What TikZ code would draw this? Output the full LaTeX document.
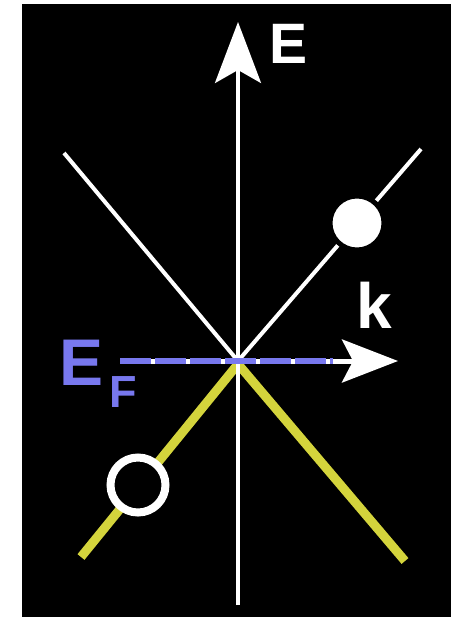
\documentclass[tikz,border=0pt]{standalone}
\usepackage{fontspec}
\setmainfont{Liberation Sans}
\usetikzlibrary{arrows.meta}
\definecolor{efblue}{RGB}{120,120,238}
\definecolor{bandyellow}{RGB}{212,212,60}
\tikzset{
  axis/.style={white, line width=3.5pt},
  cone/.style={white, line width=4pt},
  band/.style={bandyellow, line width=9pt},
  lbl/.style={inner sep=0pt, anchor=base west, font=\bfseries},
}
\begin{document}
\begin{tikzpicture}[x=1pt,y=-1pt]
\useasboundingbox (0,0) rectangle (451,617);
\fill[white] (0,0) rectangle (451,617);
\fill[black] (22,4) rectangle (451,617);
% coordinates
\coordinate (O) at (238,361);
\coordinate (Ob) at (238,364);
\coordinate (UL) at (64,153);
\coordinate (UR) at (421,149);
\coordinate (LL) at (81,557);
\coordinate (LR) at (405,561);
\coordinate (Ebot) at (238,605);
\coordinate (Etop) at (238,22);
\coordinate (Kl) at (120,361);
\coordinate (Kr) at (398,361);
% cone (conduction)
\draw[cone] (UL) -- (O) -- (UR);
% valence band
\draw[band, line join=miter] (LL) -- (Ob) -- (LR);
% energy axis
\draw[axis, -{Stealth[length=61pt,width=46pt,inset=13pt]}] (Ebot) -- (Etop);
% k axis
\draw[white, line width=5pt, -{Stealth[length=56pt,width=43pt,inset=11pt]}] (Kl) -- (Kr);
\draw[efblue, line width=6pt, dash pattern=on 31pt off 4pt] (Kl) -- (333,361);
% electron and hole
\node[circle, draw=black, line width=5pt, fill=white, minimum size=54pt, inner sep=0pt] (el) at (357,223) {};
\node[circle, draw=white, line width=8pt, fill=black, minimum size=55pt, inner sep=0pt] (hole) at (138,485) {};
% labels
\node[lbl, white, font=\bfseries\fontsize{57}{57}\selectfont] (E) at (269,64) {E};
\node[lbl, white, font=\bfseries\fontsize{64}{64}\selectfont] (k) at (356,328) {k};
\node[lbl, efblue, font=\bfseries\fontsize{66}{66}\selectfont] (EF) at (59,385) {E};
\node[lbl, efblue, font=\bfseries\fontsize{45}{45}\selectfont] (F) at (109,407) {F};
\end{tikzpicture}
\end{document}
